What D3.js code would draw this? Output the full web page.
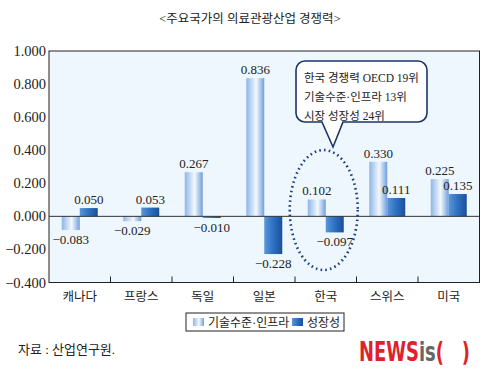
<!DOCTYPE html>
<html>
<head>
<meta charset="utf-8">
<script src="https://cdn.jsdelivr.net/npm/d3@7"></script>
<style>
  body { margin: 0; background: #fff; }
  text { font-family: "Liberation Serif", "Noto Sans CJK KR", serif; }
  text.logo { font-family: "DejaVu Sans Condensed", "Liberation Sans Narrow", sans-serif; font-weight: bold; }
</style>
</head>
<body>
<div id="chart"></div>
<script>
// chart data
const countries = ["캐나다", "프랑스", "독일", "일본", "한국", "스위스", "미국"];
const techInfra = [-0.083, -0.029, 0.267, 0.836, 0.102, 0.330, 0.225];
const growth = [0.050, 0.053, -0.010, -0.228, -0.097, 0.111, 0.135];
const seriesNames = ["기술수준·인프라", "성장성"];
const yTicks = [-0.4, -0.2, 0, 0.2, 0.4, 0.6, 0.8, 1.0];
const calloutLines = ["한국 경쟁력 OECD 19위", "기술수준·인프라 13위", "시장 성장성 24위"];

const width = 499, height = 383;
const margin = {top: 51, right: 20, bottom: 100, left: 49};

const svg = d3.select("#chart").append("svg")
    .attr("width", width)
    .attr("height", height);

const defs = svg.append("defs");

// light bar gradient
let g1 = defs.append("linearGradient").attr("id", "gradLight")
    .attr("x1", "0%").attr("x2", "100%").attr("y1", "0%").attr("y2", "0%");
g1.append("stop").attr("offset", "0%").attr("stop-color", "#8db6e8");
g1.append("stop").attr("offset", "55%").attr("stop-color", "#f4f8fe");
g1.append("stop").attr("offset", "100%").attr("stop-color", "#6f9fdc");

// dark bar gradient
let g2 = defs.append("linearGradient").attr("id", "gradDark")
    .attr("x1", "0%").attr("x2", "100%").attr("y1", "0%").attr("y2", "0%");
g2.append("stop").attr("offset", "0%").attr("stop-color", "#5d95d8");
g2.append("stop").attr("offset", "45%").attr("stop-color", "#2f74c6");
g2.append("stop").attr("offset", "100%").attr("stop-color", "#1a4f9a");

// title
svg.append("text")
    .attr("x", 250)
    .attr("y", 23)
    .attr("text-anchor", "middle")
    .attr("font-size", 12.5)
    .attr("fill", "#222")
    .text("<주요국가의 의료관광산업 경쟁력>");

const plotW = 479.5 - margin.left;
const plotTop = margin.top, plotBottom = 282.5;

const x = d3.scaleBand()
    .domain(countries)
    .range([margin.left, margin.left + plotW]);

const xSub = d3.scaleBand()
    .domain([0, 1])
    .range([0, 36]);

const y = d3.scaleLinear()
    .domain([-0.4, 1.0])
    .range([plotBottom, plotTop]);

// plot background
svg.append("rect")
    .attr("x", margin.left)
    .attr("y", plotTop)
    .attr("width", plotW)
    .attr("height", plotBottom - plotTop)
    .attr("fill", "#eef6fe")
    .attr("stroke", "#222")
    .attr("stroke-width", 1);

// y axis labels
svg.append("g")
    .selectAll("text")
    .data(yTicks)
    .join("text")
    .attr("x", margin.left - 3)
    .attr("y", d => y(d) + 5)
    .attr("text-anchor", "end")
    .attr("font-size", 14.5)
    .attr("fill", "#222")
    .text(d => (d < 0 ? "−" : "") + Math.abs(d).toFixed(3));

// category tick marks on the bottom
svg.append("g")
    .selectAll("line")
    .data(countries.slice(1))
    .join("line")
    .attr("x1", d => x(d))
    .attr("x2", d => x(d))
    .attr("y1", plotBottom)
    .attr("y2", plotBottom - 6)
    .attr("stroke", "#222");

// category labels
svg.append("g")
    .selectAll("text")
    .data(countries)
    .join("text")
    .attr("x", d => x(d) + x.bandwidth() / 2)
    .attr("y", plotBottom + 18)
    .attr("text-anchor", "middle")
    .attr("font-size", 12.5)
    .attr("fill", "#222")
    .text(d => d);

// bars
const allSeries = [techInfra, growth];
const fills = ["url(#gradLight)", "url(#gradDark)"];
allSeries.forEach((vals, s) => {
    let grp = svg.append("g");
    let offset = (x.bandwidth() - 36) / 2;
    grp.selectAll("rect")
        .data(vals)
        .join("rect")
        .attr("x", (d, i) => x(countries[i]) + offset + xSub(s))
        .attr("y", d => y(Math.max(0, d)))
        .attr("width", xSub.bandwidth())
        .attr("height", d => Math.abs(y(d) - y(0)))
        .attr("fill", fills[s]);

    grp.selectAll("text")
        .data(vals)
        .join("text")
        .attr("x", (d, i) => x(countries[i]) + offset + xSub(s) + xSub.bandwidth() / 2)
        .attr("y", d => d >= 0 ? y(d) - 4 : y(d) + 14)
        .attr("text-anchor", "middle")
        .attr("font-size", 13)
        .attr("fill", "#222")
        .text(d => (d < 0 ? "−" : "") + Math.abs(d).toFixed(3));
});

// zero line
svg.append("line")
    .attr("x1", margin.left)
    .attr("x2", margin.left + plotW)
    .attr("y1", y(0))
    .attr("y2", y(0))
    .attr("stroke", "#333")
    .attr("stroke-width", 1);

// dotted ellipse around Korea
let kx = x("한국") + x.bandwidth() / 2;
svg.append("ellipse")
    .attr("cx", kx - 2)
    .attr("cy", 210)
    .attr("rx", 34)
    .attr("ry", 60)
    .attr("fill", "none")
    .attr("stroke", "#1c3f86")
    .attr("stroke-width", 2.6)
    .attr("stroke-dasharray", "1.6 3.2");

// callout box with tail
let bx = 296, by = 61, bw = 131, bh = 61, r = 9;
let tail = [322, 343, 333, 147];
let path = d3.path();
path.moveTo(bx + r, by);
path.lineTo(bx + bw - r, by);
path.arcTo(bx + bw, by, bx + bw, by + r, r);
path.lineTo(bx + bw, by + bh - r);
path.arcTo(bx + bw, by + bh, bx + bw - r, by + bh, r);
path.lineTo(tail[1], by + bh);
path.lineTo(tail[2], tail[3]);
path.lineTo(tail[0], by + bh);
path.lineTo(bx + r, by + bh);
path.arcTo(bx, by + bh, bx, by + bh - r, r);
path.lineTo(bx, by + r);
path.arcTo(bx, by, bx + r, by, r);
path.closePath();
svg.append("path")
    .attr("d", path.toString())
    .attr("fill", "#fff")
    .attr("stroke", "#1c3566")
    .attr("stroke-width", 1.6);

svg.append("g")
    .selectAll("text")
    .data(calloutLines)
    .join("text")
    .attr("x", bx + 8)
    .attr("y", (d, i) => by + 21 + i * 19)
    .attr("font-size", 11.5)
    .attr("fill", "#222")
    .text(d => d);

// legend
let lg = svg.append("g");
lg.append("rect")
    .attr("x", 186).attr("y", 313)
    .attr("width", 158).attr("height", 18)
    .attr("fill", "#fff")
    .attr("stroke", "#222");
let legendX = [193, 292];
seriesNames.forEach((name, i) => {
    lg.append("rect")
        .attr("x", legendX[i]).attr("y", 318)
        .attr("width", 11).attr("height", 8)
        .attr("fill", fills[i]);
    lg.append("text")
        .attr("x", legendX[i] + 15).attr("y", 327)
        .attr("font-size", 12)
        .attr("fill", "#222")
        .text(name);
});

// source
svg.append("text")
    .attr("x", 18)
    .attr("y", 354)
    .attr("font-size", 13)
    .attr("fill", "#222")
    .text("자료 : 산업연구원.");

// logo: natural layout, squeezed horizontally with a transform
let logoG = svg.append("g").attr("transform", "translate(359,361)");
let logo = logoG.append("text")
    .attr("class", "logo")
    .attr("x", 0)
    .attr("y", 0)
    .attr("font-size", 27);
logo.append("tspan").attr("fill", "#e0202a").text("NEWS");
logo.append("tspan").attr("fill", "#666").text("is");
logo.append("tspan").attr("fill", "#e0202a").text("(\u2002\u2002)");
let logoLen = logo.node().getComputedTextLength();
logoG.attr("transform", `translate(359,361) scale(${111 / logoLen},1)`);
</script>
</body>
</html>
